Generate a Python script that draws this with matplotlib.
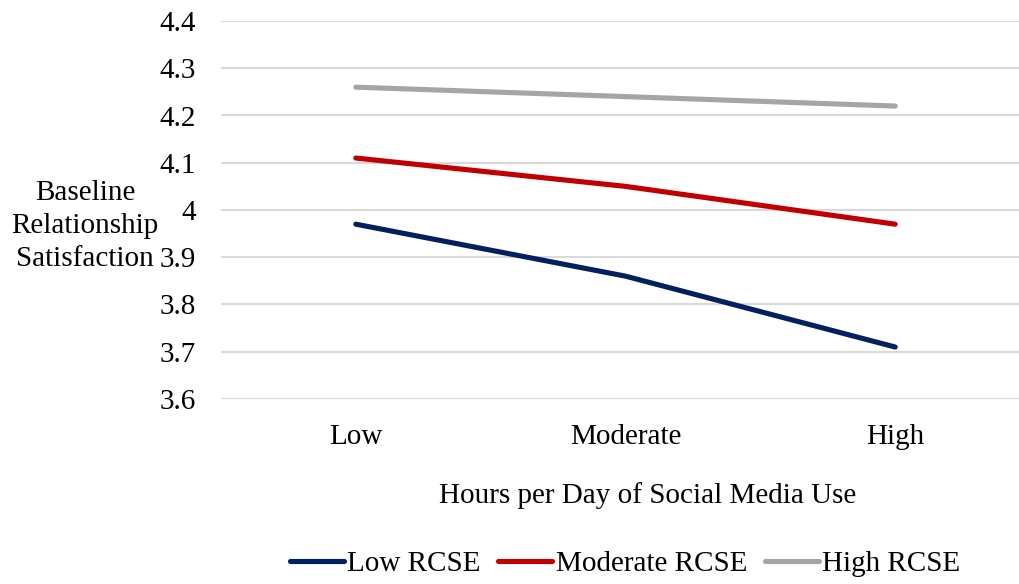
import matplotlib
matplotlib.use("Agg")
import matplotlib.pyplot as plt

categories = ["Low", "Moderate", "High"]
low_rcse = [3.97, 3.86, 3.71]
moderate_rcse = [4.11, 4.05, 3.97]
high_rcse = [4.26, 4.24, 4.22]
series_names = ["Low RCSE", "Moderate RCSE", "High RCSE"]
y_ticks = [3.6, 3.7, 3.8, 3.9, 4.0, 4.1, 4.2, 4.3, 4.4]
y_tick_labels = ["3.6", "3.7", "3.8", "3.9", "4", "4.1", "4.2", "4.3", "4.4"]

plt.rcParams["font.family"] = ["Liberation Serif", "DejaVu Serif"]
FS = 21

W, H = 1019, 584
fig = plt.figure(figsize=(W / 100, H / 100), dpi=100)
left, right = 221 / W, 1030 / W
bottom, top = 1 - 399 / H, 1 - 21 / H
ax = fig.add_axes([left, bottom, right - left, top - bottom])

colors = ["#002060", "#C00000", "#A5A5A5"]
x = list(range(len(categories)))
for vals, name, c in zip([low_rcse, moderate_rcse, high_rcse], series_names, colors):
    ax.plot(x, vals, color=c, lw=3.7, solid_capstyle="round", solid_joinstyle="round",
            label=name, zorder=3)

ax.set_xlim(-0.5, 2.5)
ax.set_ylim(3.6, 4.4)
ax.set_yticks(y_ticks)
ax.set_yticklabels(y_tick_labels, fontsize=FS)
ax.set_xticks(x)
ax.set_xticklabels(categories, fontsize=FS)
ax.tick_params(axis="y", length=0, pad=18)
ax.tick_params(axis="x", length=0, pad=18)
ax.grid(axis="y", color="#D9D9D9", lw=1.5, zorder=0)
ax.set_axisbelow(True)
for s in ax.spines.values():
    s.set_visible(False)

fig.text(85 / W, 1 - 226 / H, "Baseline\nRelationship\nSatisfaction", ha="center", va="center",
         fontsize=FS, linespacing=1.33)
fig.text(648 / W, 1 - 496 / H, "Hours per Day of Social Media Use", ha="center", va="center",
         fontsize=FS)

fig.legend(loc="center", bbox_to_anchor=(625 / W, 1 - 564 / H), ncol=3, frameon=False,
           fontsize=FS, handlelength=1.85, handletextpad=0.12, columnspacing=0.6,
           borderaxespad=0, borderpad=0)

fig.savefig("out.png", dpi=100)
